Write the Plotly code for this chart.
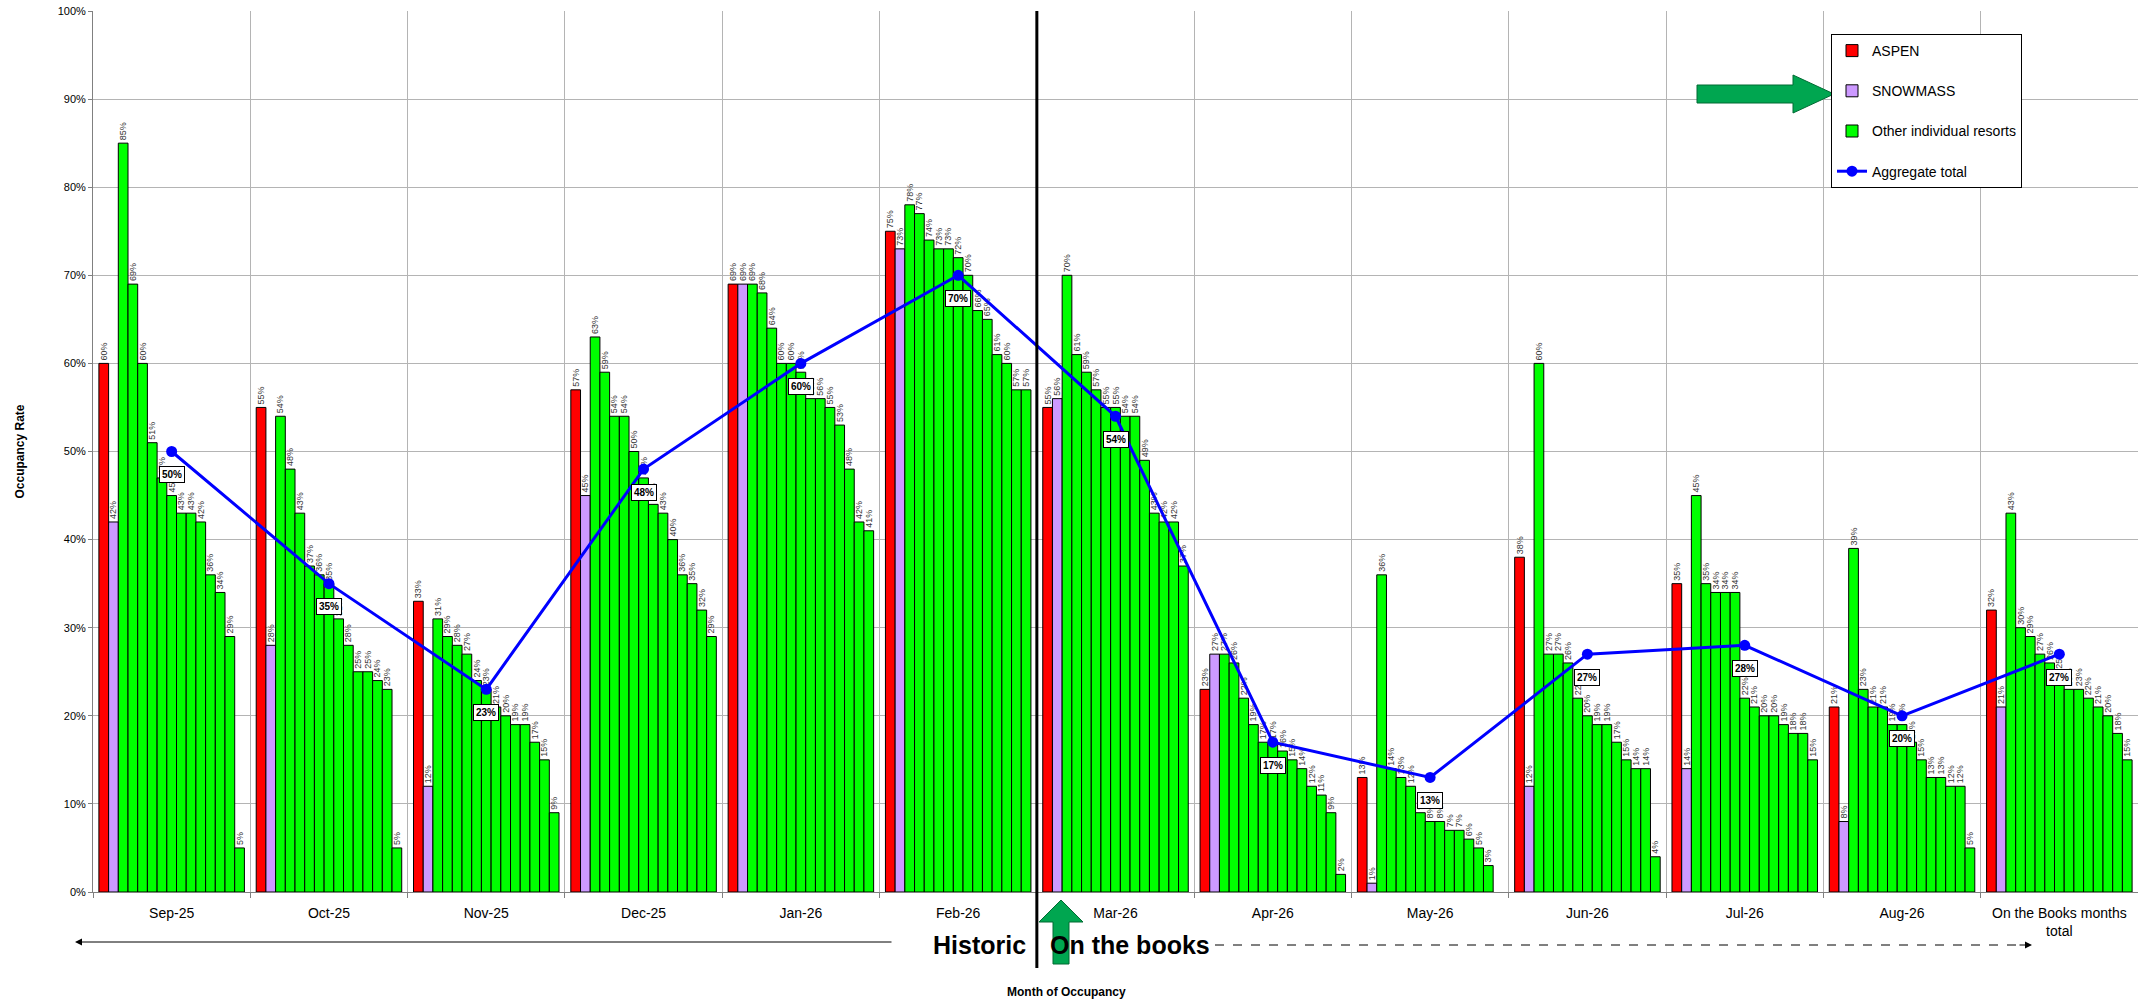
import plotly.graph_objects as go

# ---- data (occupancy, %) ----
months = ["Sep-25", "Oct-25", "Nov-25", "Dec-25", "Jan-26", "Feb-26", "Mar-26",
          "Apr-26", "May-26", "Jun-26", "Jul-26", "Aug-26", "On the Books months total"]
month_ticktext = months[:-1] + ["On the Books months<br>total"]

aspen = [60, 55, 33, 57, 69, 75, 55, 23, 13, 38, 35, 21, 32]
snowmass = [42, 28, 12, 45, 69, 73, 56, 27, 1, 12, 14, 8, 21]

# other individual resorts, sorted high to low within each month
other_sep = [85, 69, 60, 51, 47, 45, 43, 43, 42, 36, 34, 29, 5]
other_oct = [54, 48, 43, 37, 36, 35, 31, 28, 25, 25, 24, 23, 5]
other_nov = [31, 29, 28, 27, 24, 23, 21, 20, 19, 19, 17, 15, 9]
other_dec = [63, 59, 54, 54, 50, 47, 44, 43, 40, 36, 35, 32, 29]
other_jan = [69, 68, 64, 60, 60, 59, 56, 56, 55, 53, 48, 42, 41]
other_feb = [78, 77, 74, 73, 73, 72, 70, 66, 65, 61, 60, 57, 57]
other_mar = [70, 61, 59, 57, 55, 55, 54, 54, 49, 43, 42, 42, 37]
other_apr = [27, 26, 22, 19, 17, 17, 16, 15, 14, 12, 11, 9, 2]
other_may = [36, 14, 13, 12, 9, 8, 8, 7, 7, 6, 5, 3, None]
other_jun = [60, 27, 27, 26, 22, 20, 19, 19, 17, 15, 14, 14, 4]
other_jul = [45, 35, 34, 34, 34, 22, 21, 20, 20, 19, 18, 18, 15]
other_aug = [39, 23, 21, 21, 19, 19, 17, 15, 13, 13, 12, 12, 5]
other_total = [43, 30, 29, 27, 26, 25, 23, 23, 22, 21, 20, 18, 15]

other_by_month = [other_sep, other_oct, other_nov, other_dec, other_jan, other_feb,
                  other_mar, other_apr, other_may, other_jun, other_jul, other_aug,
                  other_total]

aggregate = [50, 35, 23, 48, 60, 70, 54, 17, 13, 27, 28, 20, 27]

# ---- layout geometry (page pixels) ----
W, H = 2138, 1001
PL, PR, PT, PB = 93, 2138, 11, 892


def px_x(x):
    return (x - PL) / (PR - PL)


def px_y(y):
    return (PB - y) / (PB - PT)


FONT = "Liberation Sans, Arial, sans-serif"
bar_line = dict(color="black", width=1)
label_font = dict(family=FONT, size=9, color="#333333")

fig = go.Figure()

fig.add_trace(go.Bar(
    name="ASPEN", x=months, y=aspen, legendgroup="aspen",
    marker=dict(color="#ff0000", line=bar_line),
    texttemplate="%{y:.0f}%", textposition="outside", textangle=-90,
    textfont=label_font, constraintext="none", cliponaxis=False,
))
fig.add_trace(go.Bar(
    name="SNOWMASS", x=months, y=snowmass, legendgroup="snowmass",
    marker=dict(color="#cc99ff", line=bar_line),
    texttemplate="%{y:.0f}%", textposition="outside", textangle=-90,
    textfont=label_font, constraintext="none", cliponaxis=False,
))

n_other = len(other_sep)
for k in range(n_other):
    fig.add_trace(go.Bar(
        name="Other individual resorts", x=months,
        y=[row[k] for row in other_by_month],
        legendgroup="other", showlegend=(k == 0),
        marker=dict(color="#00ff00", line=bar_line),
        texttemplate="%{y:.0f}%", textposition="outside", textangle=-90,
        textfont=label_font, constraintext="none", cliponaxis=False,
    ))

fig.add_trace(go.Scatter(
    name="Aggregate total", x=months, y=aggregate, legendgroup="agg",
    mode="lines+markers",
    line=dict(color="#0000ff", width=3),
    marker=dict(color="#0000ff", size=11),
    cliponaxis=False,
))

annotations = []
# boxed value labels under the aggregate line points
for m, v in zip(months, aggregate):
    annotations.append(dict(
        x=m, y=v, xref="x", yref="y", yshift=-23, showarrow=False,
        xanchor="center", yanchor="middle",
        text=f"<b>{v}%</b>", font=dict(family=FONT, size=10, color="black"),
        bgcolor="white", bordercolor="black", borderwidth=1, borderpad=2,
    ))

# bottom captions
annotations += [
    dict(x=px_x(979), y=px_y(945), xref="paper", yref="paper", showarrow=False,
         xanchor="center", yanchor="middle",
         text="<b>Historic</b>", font=dict(family=FONT, size=25, color="black")),
    dict(x=px_x(1130), y=px_y(945), xref="paper", yref="paper", showarrow=False,
         xanchor="center", yanchor="middle",
         text="<b>On the books</b>", font=dict(family=FONT, size=25, color="black")),
    dict(x=px_x(1066), y=px_y(992), xref="paper", yref="paper", showarrow=False,
         xanchor="center", yanchor="middle",
         text="<b>Month of Occupancy</b>", font=dict(family=FONT, size=12, color="black")),
    # solid arrow pointing back in time
    dict(x=px_x(75), y=px_y(942), xref="paper", yref="paper", showarrow=True,
         ax=818, ay=0, text="", arrowhead=2, arrowsize=1.4, arrowwidth=1,
         arrowcolor="black"),
    # head of the dashed forward arrow
    dict(x=px_x(2032), y=px_y(945), xref="paper", yref="paper", showarrow=True,
         ax=-14, ay=0, text="", arrowhead=2, arrowsize=1.4, arrowwidth=1,
         arrowcolor="black"),
]


def poly(points):
    return "M " + " L ".join(f"{px_x(x)},{px_y(y)}" for x, y in points) + " Z"


up_arrow = [(1061, 900), (1083, 922), (1069, 922), (1069, 964), (1053, 964),
            (1053, 922), (1039, 922)]
right_arrow = [(1697, 85), (1793, 85), (1793, 75), (1834, 94), (1793, 113),
               (1793, 103), (1697, 103)]

shapes = [
    # historic / on-the-books divider
    dict(type="line", xref="x", yref="paper", x0=5.5, x1=5.5, y0=1, y1=px_y(968),
         line=dict(color="black", width=3)),
    # dashed forward arrow shaft
    dict(type="line", xref="paper", yref="paper", x0=px_x(1215), x1=px_x(2028),
         y0=px_y(945), y1=px_y(945), line=dict(color="black", width=1, dash="dash")),
    dict(type="path", xref="paper", yref="paper", path=poly(up_arrow),
         fillcolor="#00a650", line=dict(color="#006b33", width=1)),
    dict(type="path", xref="paper", yref="paper", path=poly(right_arrow),
         fillcolor="#00a650", line=dict(color="#006b33", width=1)),
]

fig.update_layout(
    width=W, height=H,
    margin=dict(l=PL, r=W - PR, t=PT, b=H - PB),
    paper_bgcolor="white", plot_bgcolor="white",
    font=dict(family=FONT, size=11, color="black"),
    barmode="group", bargap=0.075, bargroupgap=0,
    showlegend=True,
    legend=dict(
        x=px_x(1831), y=px_y(34), xanchor="left", yanchor="top",
        bgcolor="white", bordercolor="black", borderwidth=1,
        font=dict(family=FONT, size=14, color="black"),
        tracegroupgap=19, itemwidth=30,
    ),
    xaxis=dict(
        type="category", tickson="boundaries", ticks="outside", ticklen=5,
        tickcolor="#808080", showgrid=True, gridcolor="#b4b4b4", gridwidth=1,
        showline=True, linecolor="#808080", linewidth=1,
        tickvals=months, ticktext=month_ticktext, ticklabelstandoff=8,
        tickfont=dict(family=FONT, size=14, color="black"),
        range=[-0.5, len(months) - 0.5],
    ),
    yaxis=dict(
        range=[0, 100], dtick=10, ticksuffix="%", ticks="outside", ticklen=4,
        tickcolor="#808080", showgrid=True, gridcolor="#b4b4b4", gridwidth=1,
        showline=True, linecolor="#808080", linewidth=1, zeroline=False,
        tickfont=dict(family=FONT, size=11, color="black"),
        title=dict(text="<b>Occupancy Rate</b>", font=dict(family=FONT, size=12),
                   standoff=30),
    ),
    annotations=annotations,
    shapes=shapes,
)

fig.write_html("out.html")
